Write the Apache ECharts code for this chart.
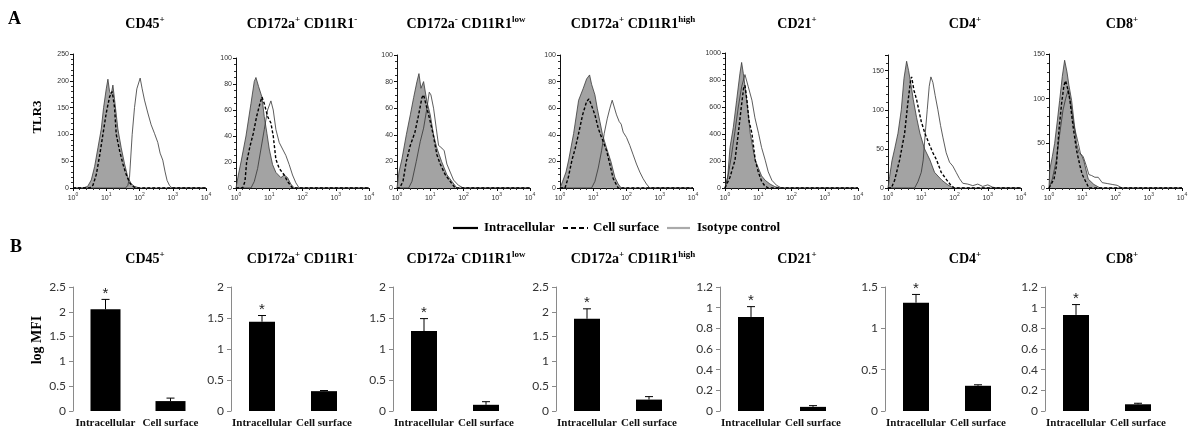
<!DOCTYPE html>
<html><head><meta charset="utf-8">
<script src="https://cdn.jsdelivr.net/npm/echarts@6/dist/echarts.min.js"></script>
<style>html,body{margin:0;padding:0;background:#fff}#c{width:1200px;height:440px}</style>
</head><body><div id="c"></div>
<script>
// ---------- DATA ----------
const panelTitles = [
  [['CD45', '+']],
  [['CD172a', '+'], [' CD11R1', '-']],
  [['CD172a', '-'], [' CD11R1', 'low']],
  [['CD172a', '+'], [' CD11R1', 'high']],
  [['CD21', '+']],
  [['CD4', '+']],
  [['CD8', '+']]
];
const decadeBase = '10';
const decadeExponents = ['0', '1', '2', '3', '4'];
const histYMax = [250, 100, 100, 100, 1000, 170, 150];
const histYInterval = [50, 20, 20, 20, 200, 50, 50];
const seriesNames = ['Intracellular', 'Cell surface', 'Isotype control'];

// histogram curves: [log10 fluorescence, count]
const cd45Iso = [[0,0],[0.3,0],[0.44,3],[0.55,15],[0.65,40],[0.75,75],[0.85,110],[0.92,150],[1.0,185],[1.05,203],[1.1,180],[1.15,175],[1.2,192],[1.25,165],[1.35,110],[1.45,75],[1.55,45],[1.65,20],[1.75,8],[1.85,3],[2.0,0],[4,0]];
const cd45Surf = [[0,0],[0.5,0],[0.6,5],[0.7,25],[0.8,60],[0.9,100],[1.0,140],[1.1,170],[1.18,180],[1.25,150],[1.3,100],[1.4,70],[1.5,45],[1.6,25],[1.7,10],[1.8,3],[1.9,0],[4,0]];
const cd45Intra = [[0,0],[1.58,0],[1.65,5],[1.7,20],[1.78,100],[1.85,150],[1.92,185],[2.02,205],[2.08,185],[2.15,164],[2.25,140],[2.35,118],[2.45,102],[2.55,85],[2.62,65],[2.7,52],[2.77,30],[2.83,14],[2.9,5],[2.98,0],[4,0]];

const myeNegIso = [[0,0],[0.07,10],[0.15,20],[0.3,40],[0.45,65],[0.55,82],[0.6,85],[0.68,78],[0.78,70],[0.85,55],[0.93,42],[1.0,30],[1.1,18],[1.2,12],[1.35,8],[1.45,10],[1.55,8],[1.65,3],[1.75,0],[4,0]];
const myeNegSurf = [[0,0],[0.2,0],[0.27,5],[0.32,20],[0.42,32],[0.52,42],[0.62,55],[0.72,65],[0.78,70],[0.85,65],[0.95,55],[1.05,50],[1.12,40],[1.2,22],[1.3,15],[1.45,10],[1.55,5],[1.7,0],[4,0]];
const myeNegIntra = [[0,0],[0.45,0],[0.55,5],[0.65,15],[0.75,30],[0.85,45],[0.95,60],[1.05,67],[1.12,60],[1.2,45],[1.3,35],[1.4,30],[1.5,25],[1.6,18],[1.7,10],[1.8,4],[1.9,0],[4,0]];

const lowIso = [[0,0],[0.06,12],[0.15,22],[0.28,40],[0.4,55],[0.5,68],[0.6,80],[0.66,86],[0.72,75],[0.8,80],[0.9,65],[1.0,55],[1.1,40],[1.2,30],[1.34,20],[1.5,10],[1.65,5],[1.8,0],[4,0]];
const lowSurf = [[0,0],[0.08,0],[0.18,5],[0.28,20],[0.4,32],[0.54,42],[0.65,55],[0.75,68],[0.8,70],[0.9,60],[1.0,50],[1.09,40],[1.2,25],[1.3,18],[1.45,10],[1.6,5],[1.75,0],[4,0]];
const lowIntra = [[0,0],[0.35,0],[0.45,5],[0.58,20],[0.7,35],[0.8,45],[0.9,60],[0.97,72],[1.02,70],[1.1,60],[1.18,45],[1.25,32],[1.35,30],[1.42,28],[1.5,18],[1.6,12],[1.7,6],[1.85,2],[2.0,0],[4,0]];

const highIso = [[0,0],[0.08,5],[0.18,12],[0.26,21],[0.41,41],[0.56,66],[0.7,75],[0.8,82],[0.89,85],[0.95,78],[1.05,70],[1.12,60],[1.2,50],[1.28,40],[1.4,30],[1.53,20],[1.65,8],[1.75,3],[1.84,0],[4,0]];
const highSurf = [[0,0],[0.15,0],[0.25,8],[0.36,21],[0.46,30],[0.56,41],[0.68,55],[0.8,65],[0.87,67],[0.95,62],[1.05,55],[1.15,45],[1.22,40],[1.3,35],[1.4,28],[1.48,20],[1.6,7],[1.75,0],[4,0]];
const highIntra = [[0,0],[0.95,0],[1.05,5],[1.15,15],[1.25,28],[1.33,41],[1.42,52],[1.5,60],[1.57,66],[1.63,65],[1.7,55],[1.78,50],[1.84,48],[1.9,42],[2.0,38],[2.1,32],[2.2,25],[2.3,18],[2.4,12],[2.5,7],[2.6,3],[2.7,0],[4,0]];

const cd21Iso = [[0,0],[0.08,80],[0.15,300],[0.25,450],[0.35,650],[0.45,850],[0.5,930],[0.55,850],[0.62,720],[0.7,550],[0.76,404],[0.85,280],[0.91,206],[1.0,150],[1.1,90],[1.21,57],[1.35,30],[1.5,10],[1.67,0],[4,0]];
const cd21Surf = [[0,0],[0.05,0],[0.15,80],[0.3,206],[0.4,404],[0.5,620],[0.56,740],[0.6,760],[0.66,650],[0.72,500],[0.81,404],[0.91,206],[1.0,120],[1.1,50],[1.2,15],[1.3,0],[4,0]];
const cd21Intra = [[0,0],[0.1,100],[0.2,250],[0.3,420],[0.4,600],[0.5,750],[0.6,840],[0.7,750],[0.81,650],[0.9,520],[1.01,404],[1.1,300],[1.21,206],[1.3,120],[1.41,57],[1.55,20],[1.7,0],[4,0]];

const cd4Iso = [[0,0],[0.05,15],[0.12,35],[0.2,50],[0.3,70],[0.4,100],[0.48,140],[0.56,162],[0.62,150],[0.7,130],[0.76,113],[0.86,90],[0.96,70],[1.1,50],[1.26,36],[1.4,20],[1.62,10],[1.8,4],[1.97,0],[4,0]];
const cd4Surf = [[0,0],[0.1,0],[0.2,10],[0.35,36],[0.5,70],[0.6,110],[0.68,138],[0.71,142],[0.78,125],[0.86,113],[1.0,85],[1.11,70],[1.25,55],[1.35,45],[1.46,36],[1.6,20],[1.77,10],[1.9,3],[2.0,0],[4,0]];
const cd4Intra = [[0,0],[0.8,0],[0.9,8],[1.0,20],[1.06,36],[1.12,70],[1.18,100],[1.24,130],[1.29,142],[1.35,135],[1.42,118],[1.5,100],[1.58,80],[1.65,65],[1.75,45],[1.85,33],[1.95,28],[2.05,20],[2.15,12],[2.25,6],[2.4,5],[2.55,3],[2.7,5],[2.85,2],[3.0,4],[3.15,1],[3.3,0],[4,0]];

const cd8Iso = [[0,0],[0.02,20],[0.1,35],[0.17,50],[0.25,75],[0.32,98],[0.4,125],[0.47,143],[0.54,130],[0.6,115],[0.68,98],[0.75,75],[0.83,50],[0.9,40],[0.98,37],[1.05,30],[1.18,10],[1.35,4],[1.54,0],[4,0]];
const cd8Surf = [[0,0],[0.05,0],[0.15,10],[0.22,24],[0.3,65],[0.38,95],[0.45,115],[0.5,120],[0.57,110],[0.63,98],[0.72,70],[0.83,42],[0.93,25],[1.0,15],[1.08,9],[1.2,0],[4,0]];
const cd8Intra = [[0,0],[0.1,10],[0.22,31],[0.32,60],[0.42,87],[0.5,100],[0.58,110],[0.65,95],[0.75,70],[0.88,50],[0.95,38],[1.03,35],[1.12,25],[1.2,15],[1.28,14],[1.38,12],[1.48,12],[1.6,6],[1.75,5],[1.9,4],[2.05,3],[2.2,0],[4,0]];

const isoCurves = [cd45Iso, myeNegIso, lowIso, highIso, cd21Iso, cd4Iso, cd8Iso];
const surfCurves = [cd45Surf, myeNegSurf, lowSurf, highSurf, cd21Surf, cd4Surf, cd8Surf];
const intraCurves = [cd45Intra, myeNegIntra, lowIntra, highIntra, cd21Intra, cd4Intra, cd8Intra];

// bar panel (log MFI)
const barCategories = ['Intracellular', 'Cell surface'];
const intraMFI = [2.05, 1.44, 1.29, 1.86, 0.91, 1.31, 0.93];
const intraErr = [0.2, 0.1, 0.2, 0.2, 0.1, 0.1, 0.1];
const surfMFI = [0.2, 0.32, 0.1, 0.23, 0.04, 0.305, 0.065];
const surfErr = [0.06, 0.01, 0.05, 0.06, 0.012, 0.012, 0.01];
const intraSig = [1, 1, 1, 1, 1, 1, 1];
const barYMax = [2.5, 2, 2, 2.5, 1.2, 1.5, 1.2];
const barYInterval = [0.5, 0.5, 0.5, 0.5, 0.2, 0.5, 0.2];

// ---------- LAYOUT ----------
const serif = "'Liberation Serif','Times New Roman',serif";
const histLeft = [73, 236, 397, 560, 725, 888, 1049];
const histTop = [54, 58, 55, 55, 53, 55, 54];
const histBottomY = 188, histW = 133;
const barLeft = [73, 231, 393, 556, 720, 885, 1045];
const barW = [130, 124, 124, 124, 124, 124, 124];
const barTopY = 287, barBottomY = 411;
const titleX = [145, 302, 466, 633, 797, 965, 1122];

const grid = [], xAxis = [], yAxis = [], series = [];
for (let i = 0; i < 7; i++) {
  grid.push({left: histLeft[i], top: histTop[i], width: histW, height: histBottomY - histTop[i]});
  xAxis.push({type: 'value', gridIndex: i, min: 0, max: 4, interval: 1,
    axisLine: {lineStyle: {color: '#111', width: 1}}, axisTick: {length: 3, lineStyle: {color: '#111'}},
    minorTick: {show: true, splitNumber: 5, length: 2, lineStyle: {color: '#333'}},
    splitLine: {show: false},
    axisLabel: {color: '#333', margin: 4,
      formatter: v => '{b|' + decadeBase + '}{p|' + decadeExponents[Math.round(v)] + '}',
      rich: {
        b: {fontSize: 7, fontFamily: 'Liberation Sans', color: '#333', lineHeight: 10, verticalAlign: 'bottom'},
        p: {fontSize: 5, fontFamily: 'Liberation Sans', color: '#333', lineHeight: 10, verticalAlign: 'top', padding: [0, 0, 4, 0]}
      }}});
  yAxis.push({type: 'value', gridIndex: i, min: 0, max: histYMax[i], interval: histYInterval[i],
    axisLine: {show: true, lineStyle: {color: '#111', width: 1}}, axisTick: {show: true, length: 3, lineStyle: {color: '#111'}},
    minorTick: {show: true, splitNumber: histYInterval[i] === 20 ? 4 : 5, length: 2, lineStyle: {color: '#333'}},
    splitLine: {show: false}, axisLabel: {fontSize: 7, color: '#333', margin: 4, fontFamily: 'Liberation Sans',
      formatter: v => String(v), showMaxLabel: histYMax[i] % histYInterval[i] === 0}});
  series.push({type: 'line', name: seriesNames[2], xAxisIndex: i, yAxisIndex: i, data: isoCurves[i], showSymbol: false, symbol: 'none',
    lineStyle: {color: '#3a3a3a', width: 0.8}, areaStyle: {color: '#a3a3a3', opacity: 1}, z: 2, silent: true});
  series.push({type: 'line', name: seriesNames[0], xAxisIndex: i, yAxisIndex: i, data: intraCurves[i], showSymbol: false, symbol: 'none',
    lineStyle: {color: '#333', width: 0.8}, z: 3, silent: true});
  series.push({type: 'line', name: seriesNames[1], xAxisIndex: i, yAxisIndex: i, data: surfCurves[i], showSymbol: false, symbol: 'none',
    lineStyle: {color: '#000', width: 1.4, type: [3, 2]}, z: 4, silent: true});
}
for (let i = 0; i < 7; i++) {
  const g = 7 + i;
  grid.push({left: barLeft[i], top: barTopY, width: barW[i], height: barBottomY - barTopY});
  xAxis.push({type: 'category', gridIndex: g, data: barCategories,
    axisLine: {show: false}, axisTick: {show: false},
    axisLabel: {fontSize: 11, fontWeight: 'bold', fontFamily: serif, color: '#111', margin: 7, interval: 0}});
  yAxis.push({type: 'value', gridIndex: g, min: 0, max: barYMax[i], interval: barYInterval[i],
    axisLine: {show: true, lineStyle: {color: '#8a8a8a', width: 1}},
    axisTick: {show: true, length: 4, lineStyle: {color: '#8a8a8a'}},
    splitLine: {show: false},
    axisLabel: {fontSize: 12, color: '#333', margin: 7, fontFamily: 'Lato'}});
  series.push({type: 'bar', xAxisIndex: g, yAxisIndex: g, data: [intraMFI[i], surfMFI[i]],
    barWidth: i === 0 ? 30 : 26, itemStyle: {color: '#000'}, silent: true, z: 2});
  series.push({type: 'custom', xAxisIndex: g, yAxisIndex: g, silent: true, z: 3,
    data: [[0, intraMFI[i], intraErr[i], intraSig[i]], [1, surfMFI[i], surfErr[i], 0]],
    renderItem: function (params, api) {
      const x = api.value(0), v = api.value(1), e = api.value(2), sig = api.value(3);
      const p0 = api.coord([x, v]), p1 = api.coord([x, v + e]);
      const ch = [
        {type: 'line', shape: {x1: p0[0], y1: p0[1], x2: p1[0], y2: p1[1]}, style: {stroke: '#000', lineWidth: 1}},
        {type: 'line', shape: {x1: p1[0] - 4, y1: p1[1], x2: p1[0] + 4, y2: p1[1]}, style: {stroke: '#000', lineWidth: 1}}
      ];
      if (sig) ch.push({type: 'text', x: p1[0], y: p1[1] + 2, style: {text: '*', fill: '#222', fontSize: 15, fontFamily: 'Liberation Sans', align: 'center', verticalAlign: 'bottom'}});
      return {type: 'group', children: ch};
    }});
}

const titleRich = {
  n: {fontFamily: serif, fontWeight: 'bold', fontSize: 14, fill: '#000', lineHeight: 16, verticalAlign: 'bottom'},
  s: {fontFamily: serif, fontWeight: 'bold', fontSize: 9, fill: '#000', lineHeight: 16, verticalAlign: 'top', padding: [0, 0, 6, 0]}
};
const titleText = parts => parts.map(p => `{n|${p[0]}}{s|${p[1]}}`).join('');
const graphic = [];
for (let i = 0; i < 7; i++) {
  [23, 258].forEach(y => graphic.push({type: 'text', x: titleX[i], y: y, style: {text: titleText(panelTitles[i]), rich: titleRich, align: 'center', verticalAlign: 'middle'}}));
}
graphic.push({type: 'text', x: 8, y: 19, style: {text: 'A', fontFamily: serif, fontWeight: 'bold', fontSize: 18, fill: '#000', verticalAlign: 'middle'}});
graphic.push({type: 'text', x: 10, y: 247, style: {text: 'B', fontFamily: serif, fontWeight: 'bold', fontSize: 18, fill: '#000', verticalAlign: 'middle'}});
graphic.push({type: 'text', x: 38, y: 117, rotation: Math.PI / 2, style: {text: 'TLR3', fontFamily: serif, fontWeight: 'bold', fontSize: 13, fill: '#000', align: 'center', verticalAlign: 'middle'}});
graphic.push({type: 'text', x: 37, y: 340, rotation: Math.PI / 2, style: {text: 'log MFI', fontFamily: serif, fontWeight: 'bold', fontSize: 14, fill: '#000', align: 'center', verticalAlign: 'middle'}});
// legend
const legY = 228;
const legend = [
  {x1: 453, x2: 478, tx: 484, stroke: '#000', dash: null, w: 2.2},
  {x1: 563, x2: 588, tx: 593, stroke: '#000', dash: [5, 3], w: 2.2},
  {x1: 667, x2: 690, tx: 697, stroke: '#aaa', dash: null, w: 2.2}
];
legend.forEach((l, k) => {
  graphic.push({type: 'line', shape: {x1: l.x1, y1: legY, x2: l.x2, y2: legY}, style: {stroke: l.stroke, lineWidth: l.w, lineDash: l.dash}});
  graphic.push({type: 'text', x: l.tx, y: legY, style: {text: seriesNames[k], fontFamily: serif, fontWeight: 'bold', fontSize: 13, fill: '#000', verticalAlign: 'middle'}});
});

const chart = echarts.init(document.getElementById('c'), null, {renderer: 'canvas'});
chart.setOption({animation: false, backgroundColor: '#fff', grid, xAxis, yAxis, series, graphic});
</script></body></html>
